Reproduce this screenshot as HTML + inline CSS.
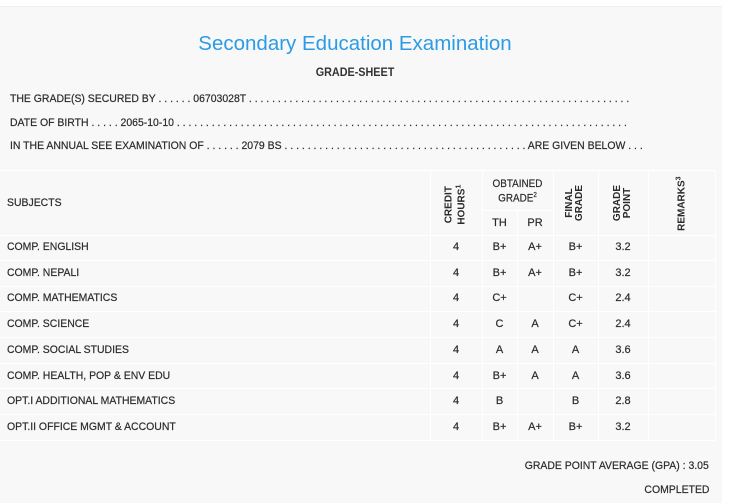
<!DOCTYPE html>
<html><head><style>
body{margin:0;width:745px;height:502px;background:#fff;position:relative;overflow:hidden;font-family:"Liberation Sans",sans-serif;color:#2a2a2a}
.panel{position:absolute;left:0;top:6px;width:722px;height:496px;background:#f8f8f8;border-top:1px solid #eee}
.t{position:absolute;font-size:11px;white-space:nowrap;transform-origin:0 50%;transform:scaleX(.95);line-height:12px;-webkit-text-stroke:0.2px #2a2a2a}
.c{position:absolute;font-size:11px;text-align:center;line-height:12px;white-space:nowrap;-webkit-text-stroke:0.2px #2a2a2a}
.hl{position:absolute;height:1px;background:#fff}
.vl{position:absolute;width:1px;background:#fff}
.v{position:absolute;font-size:10px;font-weight:bold;transform:rotate(-90deg);text-align:center;line-height:10px;white-space:nowrap}
</style></head><body>
<div class="panel"></div>
<div style="position:absolute;left:0;width:710px;top:32px;text-align:center;font-size:20.5px;color:#2b9be6;line-height:24px">Secondary Education Examination</div>
<div style="position:absolute;left:0;width:710px;top:65px;text-align:center;font-size:12px;font-weight:bold;color:#333;line-height:14px;transform:scaleX(.9)">GRADE-SHEET</div>
<div class="t" style="left:10px;top:93px">THE GRADE(S) SECURED BY . . . . . . 06703028T . . . . . . . . . . . . . . . . . . . . . . . . . . . . . . . . . . . . . . . . . . . . . . . . . . . . . . . . . . . . . . . . . .</div>
<div class="t" style="left:10px;top:117px">DATE OF BIRTH . . . . . 2065-10-10 . . . . . . . . . . . . . . . . . . . . . . . . . . . . . . . . . . . . . . . . . . . . . . . . . . . . . . . . . . . . . . . . . . . . . . . . . . . . . .</div>
<div class="t" style="left:10px;top:140px">IN THE ANNUAL SEE EXAMINATION OF . . . . . . 2079 BS . . . . . . . . . . . . . . . . . . . . . . . . . . . . . . . . . . . . . . . . . . ARE GIVEN BELOW . . .</div>

<div class="hl" style="left:0;width:715px;top:170px"></div>
<div class="hl" style="left:482px;width:71px;top:210px"></div>
<div class="hl" style="left:0;width:715px;top:235px"></div>
<div class="hl" style="left:0;width:715px;top:260px"></div>
<div class="hl" style="left:0;width:715px;top:286px"></div>
<div class="hl" style="left:0;width:715px;top:311px"></div>
<div class="hl" style="left:0;width:715px;top:337px"></div>
<div class="hl" style="left:0;width:715px;top:363px"></div>
<div class="hl" style="left:0;width:715px;top:388px"></div>
<div class="hl" style="left:0;width:715px;top:414px"></div>
<div class="hl" style="left:0;width:715px;top:440px"></div>
<div class="vl" style="left:430px;top:170px;height:270px"></div>
<div class="vl" style="left:482px;top:170px;height:270px"></div>
<div class="vl" style="left:517px;top:210px;height:230px"></div>
<div class="vl" style="left:553px;top:170px;height:270px"></div>
<div class="vl" style="left:598px;top:170px;height:270px"></div>
<div class="vl" style="left:648px;top:170px;height:270px"></div>
<div class="vl" style="left:715px;top:170px;height:270px"></div>

<div class="t" style="left:7px;top:197px">SUBJECTS</div>
<div class="v" style="left:421px;top:193px;width:70px">CREDIT<br>HOURS<sup style="font-size:7px">1</sup></div>
<div class="c" style="left:482px;width:71px;top:178px;transform:scaleX(.9)">OBTAINED<br>GRADE<sup style="font-size:7px">2</sup></div>
<div class="c" style="left:482px;width:35px;top:217px">TH</div>
<div class="c" style="left:517px;width:36px;top:217px">PR</div>
<div class="v" style="left:540px;top:193px;width:70px">FINAL<br>GRADE</div>
<div class="v" style="left:588px;top:193px;width:70px">GRADE<br>POINT</div>
<div class="v" style="left:646px;top:197px;width:70px">REMARKS<sup style="font-size:7px">3</sup></div>

<div id="rows"></div>
<script>
var d=[["COMP. ENGLISH","B+","A+","B+","3.2"],["COMP. NEPALI","B+","A+","B+","3.2"],["COMP. MATHEMATICS","C+","","C+","2.4"],["COMP. SCIENCE","C","A","C+","2.4"],["COMP. SOCIAL STUDIES","A","A","A","3.6"],["COMP. HEALTH, POP &amp; ENV EDU","B+","A","A","3.6"],["OPT.I ADDITIONAL MATHEMATICS","B","","B","2.8"],["OPT.II OFFICE MGMT &amp; ACCOUNT","B+","A+","B+","3.2"]];
var h="";d.forEach(function(r,i){var y=241+i*25.7;
h+='<div class="t" style="left:7px;top:'+y+'px">'+r[0]+'</div>';
h+='<div class="c" style="left:430px;width:52px;top:'+y+'px">4</div>';
h+='<div class="c" style="left:482px;width:35px;top:'+y+'px">'+r[1]+'</div>';
h+='<div class="c" style="left:517px;width:36px;top:'+y+'px">'+r[2]+'</div>';
h+='<div class="c" style="left:553px;width:45px;top:'+y+'px">'+r[3]+'</div>';
h+='<div class="c" style="left:598px;width:50px;top:'+y+'px">'+r[4]+'</div>';});
document.getElementById("rows").innerHTML=h;
</script>
<div style="position:absolute;right:36px;top:460px;font-size:11px;line-height:12px;transform:scaleX(.95);transform-origin:100% 50%;white-space:nowrap;-webkit-text-stroke:0.2px #2a2a2a">GRADE POINT AVERAGE (GPA) : 3.05</div>
<div style="position:absolute;right:36px;top:484px;font-size:11px;line-height:12px;transform:scaleX(.95);transform-origin:100% 50%;white-space:nowrap;-webkit-text-stroke:0.2px #2a2a2a">COMPLETED</div>
</body></html>
